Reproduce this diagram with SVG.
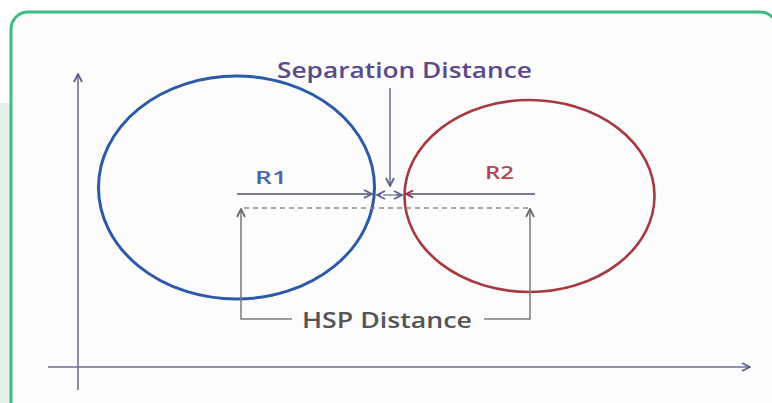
<svg xmlns="http://www.w3.org/2000/svg" width="772" height="403" viewBox="0 0 772 403">
<style>
.ax{stroke:#6e6e98;stroke-width:1.6;fill:none}
.ln{stroke:#7a7f95;stroke-width:2;fill:none}
.gr{stroke:#7a7a7a;stroke-width:1.5;fill:none}
.t{font-family:"Open Sans","Liberation Sans",sans-serif;font-weight:600}
</style>
<defs>
<marker id="ah" viewBox="0 0 10 10" refX="9" refY="5" markerWidth="10" markerHeight="10" markerUnits="userSpaceOnUse" orient="auto"><path d="M1,1 L9,5 L1,9" fill="none" stroke="#5e6088" stroke-width="1.8"/></marker>
<marker id="ahg" viewBox="0 0 10 10" refX="9" refY="5" markerWidth="10" markerHeight="10" markerUnits="userSpaceOnUse" orient="auto"><path d="M1,1 L9,5 L1,9" fill="none" stroke="#6a6a6a" stroke-width="1.8"/></marker>
<marker id="ahr" viewBox="0 0 10 10" refX="9" refY="5" markerWidth="9" markerHeight="9" markerUnits="userSpaceOnUse" orient="auto"><path d="M1,1 L9,5 L1,9" fill="none" stroke="#a03040" stroke-width="2"/></marker>
</defs>
<rect x="0" y="0" width="772" height="403" fill="#ffffff"/>
<rect x="0" y="103" width="11" height="300" fill="#e2f2ea"/>
<rect x="11" y="12" width="766" height="420" rx="17" fill="#fcfcfd" stroke="#3dbb80" stroke-width="3"/>
<g id="axes">
<line class="ax" x1="78" y1="390" x2="78" y2="74" marker-end="url(#ah)"/>
<line class="ax" x1="48" y1="367" x2="750" y2="367" marker-end="url(#ah)"/>
</g>
<g id="circle-r1">
<ellipse cx="236.5" cy="187.5" rx="138" ry="111.5" fill="none" stroke="#2d5aa8" stroke-width="3"/>
<text class="t" x="255" y="184" font-size="18" fill="#4868a8" textLength="32" lengthAdjust="spacingAndGlyphs">R1</text>
</g>
<g id="circle-r2">
<ellipse cx="529.5" cy="196" rx="125" ry="96" fill="none" stroke="#a63a40" stroke-width="2.6"/>
<text class="t" x="485" y="179" font-size="18" fill="#b04850" textLength="29" lengthAdjust="spacingAndGlyphs">R2</text>
</g>
<g id="separation-label">
<text class="t" x="277" y="78" font-size="21" fill="#5a4a8c" textLength="255" lengthAdjust="spacingAndGlyphs">Separation Distance</text>
</g>
<g id="hsp-label">
<text class="t" x="302" y="328" font-size="21" fill="#555555" textLength="170" lengthAdjust="spacingAndGlyphs">HSP Distance</text>
</g>
<g id="connectors">
<line class="ln" x1="237" y1="194" x2="372" y2="194" marker-end="url(#ah)"/>
<line class="ln" x1="535" y1="194" x2="406" y2="194" marker-end="url(#ahr)"/>
<line x1="381" y1="195" x2="377" y2="195" class="ln" stroke-width="1.4" marker-end="url(#ah)"/>
<line x1="396" y1="195" x2="402" y2="195" class="ln" stroke-width="1.4" marker-end="url(#ah)"/>
<line x1="383" y1="195" x2="396" y2="195" stroke="#7a7f95" stroke-width="1.4"/>
<line class="ax" x1="390" y1="88" x2="390" y2="186" marker-end="url(#ah)"/>
<line x1="244" y1="208" x2="528" y2="208" stroke="#8a8a8a" stroke-width="1.4" stroke-dasharray="5,4"/>
<polyline class="gr" points="292,319 241,319 241,209" marker-end="url(#ahg)"/>
<polyline class="gr" points="484,319 530,319 530,209" marker-end="url(#ahg)"/>
</g>
</svg>
